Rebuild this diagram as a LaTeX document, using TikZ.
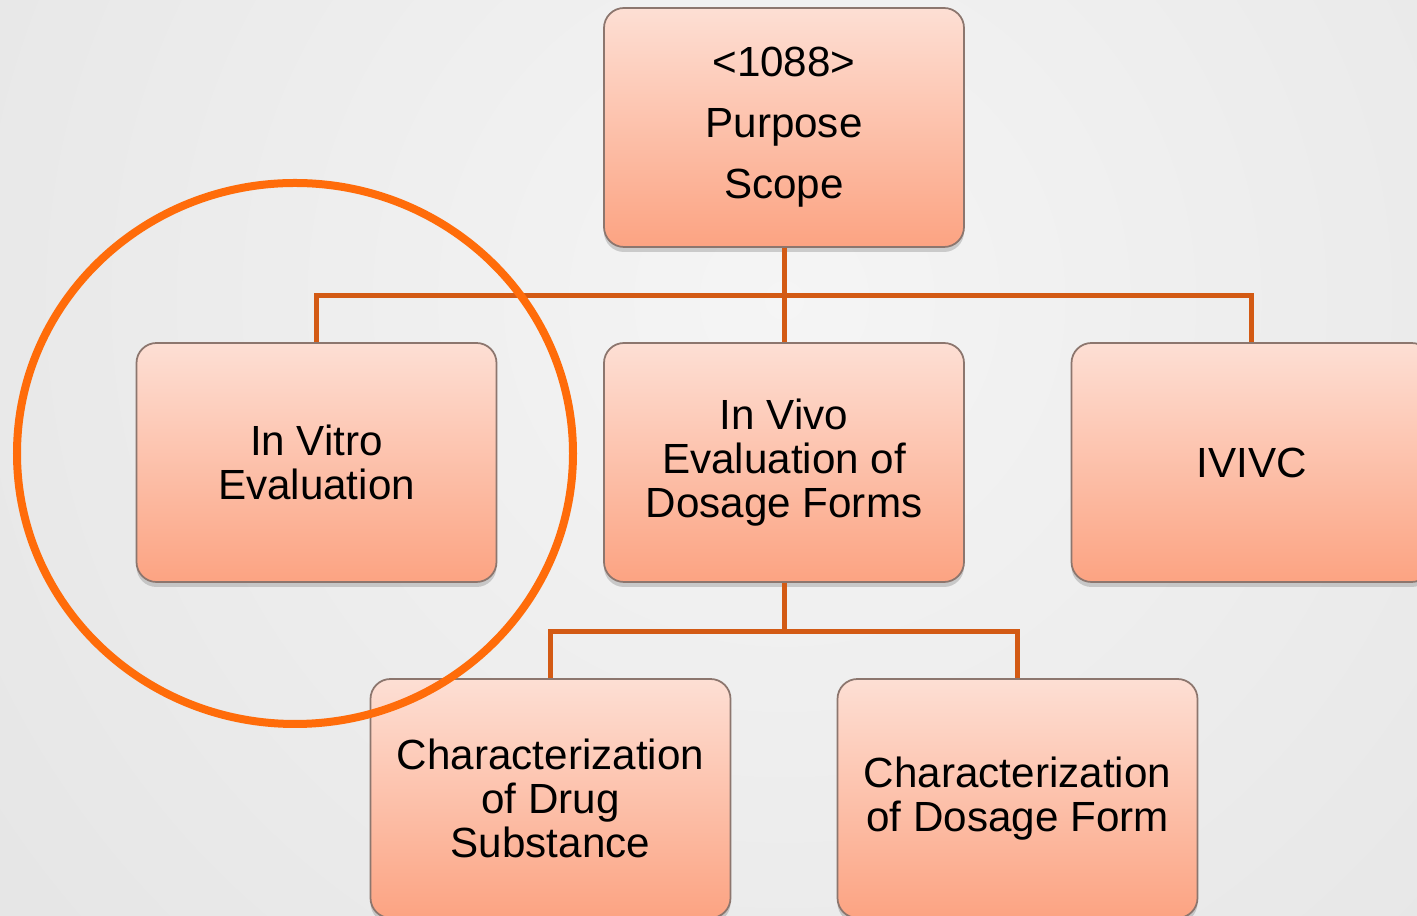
\documentclass[tikz,border=0pt]{standalone}
\usepackage{fontspec}
\setmainfont{Liberation Sans}
\usetikzlibrary{shadows}

\definecolor{boxtop}{RGB}{253,223,212}
\definecolor{boxbot}{RGB}{252,163,130}
\definecolor{boxline}{RGB}{140,118,110}
\definecolor{linkorange}{RGB}{211,90,20}
\definecolor{ringorange}{RGB}{255,108,10}

\tikzset{
  box/.style={rectangle, rounded corners=0.2cm, draw=boxline, line width=0.5pt,
    top color=boxtop, bottom color=boxbot,
    minimum width=3.6cm, minimum height=2.39cm, align=center,
    font=\fontsize{12}{12.5}\selectfont,
    drop shadow={shadow xshift=0cm, shadow yshift=-0.05cm, opacity=0.35}},
  link/.style={draw=linkorange, line width=0.05cm},
  ring/.style={draw=ringorange, line width=0.08cm},
}

\begin{document}
\begin{tikzpicture}
    \useasboundingbox (0,0) rectangle (14.17,-9.16);
    % 背景: 中间偏上较亮
    \begin{scope}
        \clip (0,0) rectangle (14.17,-9.16);
        \shade[inner color=gray!8!white, outer color=gray!32!white]
             (-12.16,17) rectangle (27.84,-23);
    \end{scope}

    % 第一层
    \node[box] (top) at (7.84,-1.275)
         {<1088>\\[0.17cm]Purpose\\[0.17cm]Scope};
    % 第二层
    \node[box] (vitro) at (3.165,-4.625) {In Vitro\\Evaluation};
    \node[box] (vivo) at (7.84,-4.625) {In Vivo\\Evaluation of\\Dosage Forms};
    \node[box] (ivivc) at (12.515,-4.625) {IVIVC};
    % 第三层
    \node[box] (drug) at (5.505,-7.985) {Characterization\\of Drug\\Substance};
    \node[box] (form) at (10.175,-7.985) {Characterization\\of Dosage Form};

    % 连线
    \draw[link] (top.south) -- ++(0,-0.48) -| (vitro.north);
    \draw[link] (top.south) -- ++(0,-0.48) -| (ivivc.north);
    \draw[link] (top.south) -- (vivo.north);
    \draw[link] (vivo.south) -- ++(0,-0.49) -| (drug.north);
    \draw[link] (vivo.south) -- ++(0,-0.49) -| (form.north);

    % 圈出 In Vitro
    \draw[ring] (2.95,-4.535) ellipse [x radius=2.78, y radius=2.705];
\end{tikzpicture}
\end{document}
